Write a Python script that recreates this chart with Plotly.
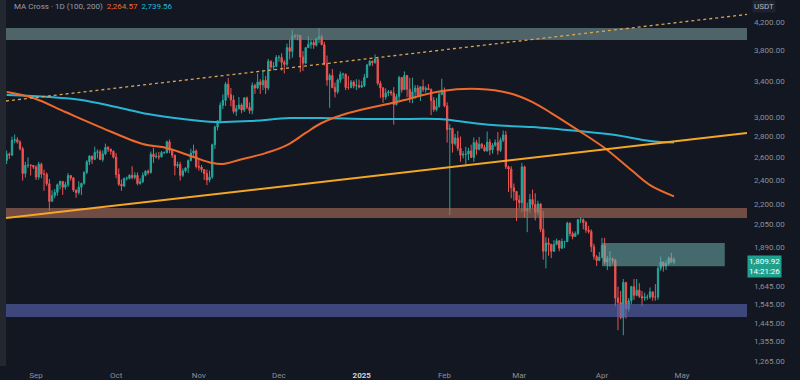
import math
import pandas as pd
import plotly.graph_objects as go

# ---------------- data (ETH/USDT daily) ----------------
start_date = "2024-08-21"
end_date = "2025-04-28"
first_open = 2573

close_aug = [2630, 2622, 2762, 2768, 2746, 2680, 2456, 2528, 2529, 2527, 2513]
high_aug = [2664, 2645, 2798, 2820, 2792, 2762, 2700, 2560, 2600, 2538, 2530]
low_aug = [2540, 2585, 2612, 2735, 2730, 2665, 2395, 2420, 2505, 2438, 2495]

close_sep = [2425, 2538, 2450, 2450, 2368, 2225, 2272, 2297, 2360, 2388, 2340, 2361, 2438, 2418, 2316,
             2295, 2340, 2372, 2465, 2560, 2612, 2582, 2646, 2652, 2580, 2632, 2695, 2677, 2657, 2602]
high_sep = [2528, 2560, 2552, 2490, 2465, 2408, 2315, 2325, 2370, 2395, 2390, 2385, 2460, 2440, 2425,
            2320, 2390, 2375, 2475, 2575, 2620, 2615, 2700, 2675, 2672, 2665, 2730, 2705, 2680, 2665]
low_sep = [2400, 2403, 2415, 2310, 2350, 2150, 2225, 2250, 2270, 2322, 2277, 2320, 2340, 2395, 2300,
           2253, 2280, 2275, 2360, 2450, 2530, 2540, 2575, 2590, 2575, 2560, 2620, 2650, 2625, 2590]

close_oct = [2447, 2364, 2350, 2414, 2414, 2440, 2422, 2440, 2370, 2385, 2440, 2475, 2465, 2630, 2605, 2611,
             2605, 2645, 2645, 2747, 2667, 2620, 2525, 2535, 2440, 2478, 2505, 2570, 2640, 2660, 2518]
high_oct = [2640, 2500, 2405, 2420, 2430, 2450, 2520, 2467, 2465, 2415, 2465, 2485, 2490, 2655, 2690, 2645,
            2650, 2660, 2655, 2760, 2770, 2680, 2625, 2560, 2560, 2500, 2510, 2580, 2680, 2720, 2675]
low_oct = [2415, 2350, 2310, 2340, 2395, 2405, 2405, 2405, 2355, 2360, 2375, 2430, 2445, 2455, 2550, 2590,
           2580, 2600, 2630, 2635, 2640, 2595, 2440, 2505, 2395, 2425, 2465, 2460, 2565, 2605, 2500]

close_nov = [2512, 2490, 2456, 2400, 2425, 2720, 2895, 2960, 3127, 3182, 3370, 3245, 3187, 3060, 3090,
             3130, 3075, 3210, 3105, 3070, 3355, 3325, 3395, 3360, 3415, 3325, 3655, 3580, 3590, 3705]
high_nov = [2585, 2530, 2490, 2490, 2480, 2730, 2910, 2965, 3160, 3250, 3395, 3445, 3325, 3240, 3130,
            3220, 3150, 3220, 3225, 3160, 3390, 3375, 3500, 3430, 3545, 3470, 3685, 3665, 3645, 3735]
low_nov = [2480, 2465, 2400, 2357, 2380, 2410, 2680, 2860, 2950, 3085, 3120, 3210, 3115, 3035, 3012,
           3080, 3040, 3055, 3085, 3035, 3030, 3255, 3310, 3255, 3300, 3255, 3300, 3560, 3540, 3580]

close_dec = [3705, 3640, 3615, 3835, 3785, 4000, 3995, 4005, 3710, 3630, 3835, 3880, 3905, 3870, 3960, 3985,
             3875, 3625, 3420, 3475, 3330, 3280, 3420, 3490, 3490, 3330, 3330, 3395, 3350, 3355, 3335]
high_dec = [3735, 3760, 3670, 3890, 3945, 4085, 4020, 4015, 4010, 3790, 3845, 3995, 3950, 3945, 3965, 4107,
            4020, 3915, 3730, 3500, 3555, 3390, 3440, 3525, 3510, 3500, 3470, 3420, 3415, 3430, 3425]
low_dec = [3650, 3535, 3500, 3590, 3680, 3700, 3960, 3935, 3515, 3530, 3615, 3835, 3820, 3820, 3850, 3900,
           3870, 3600, 3350, 3100, 3320, 3215, 3255, 3385, 3435, 3300, 3305, 3320, 3320, 3300, 3320]

close_jan = [3353, 3452, 3605, 3655, 3635, 3685, 3380, 3325, 3220, 3265, 3280, 3265, 3135, 3225, 3450, 3305,
             3475, 3310, 3215, 3280, 3325, 3240, 3340, 3305, 3320, 3305, 3180, 3080, 3115, 3250, 3300]
high_jan = [3410, 3495, 3620, 3670, 3665, 3745, 3700, 3410, 3335, 3320, 3300, 3300, 3335, 3255, 3470, 3450,
            3525, 3475, 3445, 3450, 3360, 3360, 3345, 3425, 3345, 3370, 3320, 3220, 3210, 3280, 3435]
low_jan = [3325, 3335, 3445, 3590, 3595, 3625, 3355, 3210, 3155, 3190, 3230, 3235, 2920, 3125, 3180, 3270,
           3300, 3220, 3155, 3150, 3200, 3225, 3175, 3280, 3270, 3300, 3020, 3055, 3060, 3100, 3240]

close_feb = [3120, 2870, 2880, 2730, 2785, 2685, 2620, 2630, 2630, 2660, 2600, 2740, 2675, 2725,
             2695, 2660, 2745, 2670, 2715, 2740, 2665, 2765, 2815, 2515, 2495, 2335, 2305, 2235]
high_feb = [3330, 3160, 2925, 2890, 2825, 2855, 2800, 2660, 2700, 2690, 2720, 2790, 2765, 2795,
            2735, 2720, 2850, 2775, 2735, 2770, 2845, 2790, 2860, 2855, 2525, 2520, 2370, 2305]
low_feb = [3105, 2740, 2120, 2645, 2710, 2660, 2560, 2590, 2520, 2575, 2595, 2560, 2625, 2665,
           2680, 2655, 2655, 2620, 2635, 2700, 2625, 2650, 2745, 2495, 2300, 2250, 2230, 2075]

close_mar = [2215, 2515, 2150, 2170, 2240, 2200, 2140, 2205, 2015, 1865, 1920, 1910, 1865, 1910, 1935, 1885,
             1930, 1930, 2060, 1985, 1965, 1985, 2085, 2085, 2065, 2010, 2000, 1895, 1830, 1805, 1825]
high_mar = [2275, 2550, 2525, 2215, 2285, 2320, 2290, 2230, 2210, 2150, 1960, 1955, 1915, 1940, 1950, 1940,
            1950, 1935, 2070, 2065, 2000, 2000, 2090, 2105, 2095, 2075, 2040, 2015, 1915, 1840, 1860]
low_mar = [2170, 2140, 2100, 1995, 2135, 2170, 2080, 2120, 1995, 1810, 1755, 1835, 1820, 1860, 1905, 1865,
           1880, 1885, 1925, 1965, 1945, 1965, 1975, 2060, 2015, 1990, 1985, 1860, 1810, 1770, 1800]

close_apr = [1905, 1795, 1815, 1815, 1805, 1580, 1555, 1475, 1670, 1520, 1565, 1645, 1595, 1625,
             1590, 1580, 1585, 1585, 1615, 1585, 1585, 1755, 1795, 1770, 1785, 1820, 1795, 1810]
high_apr = [1955, 1955, 1835, 1865, 1825, 1815, 1645, 1620, 1690, 1670, 1580, 1650, 1690, 1690,
            1665, 1620, 1610, 1600, 1640, 1615, 1660, 1770, 1830, 1795, 1805, 1830, 1855, 1825]
low_apr = [1820, 1780, 1745, 1765, 1785, 1535, 1410, 1465, 1385, 1470, 1505, 1545, 1570, 1590,
           1580, 1535, 1565, 1570, 1575, 1565, 1565, 1570, 1740, 1735, 1745, 1775, 1790, 1780]

# moving averages (SMA 100 / SMA 200)
ma100_dates = ["2024-08-21", "2024-08-31", "2024-09-12", "2024-09-25", "2024-10-11", "2024-10-20",
               "2024-10-30", "2024-11-06", "2024-11-10", "2024-11-16", "2024-11-26", "2024-12-04",
               "2024-12-11", "2024-12-17", "2024-12-27", "2025-01-14", "2025-01-31", "2025-02-14",
               "2025-02-25", "2025-03-06", "2025-03-13", "2025-03-23", "2025-04-02", "2025-04-12",
               "2025-04-19", "2025-04-28"]
ma100_vals = [3277, 3209, 3053, 2895, 2726, 2688, 2603, 2549, 2540, 2576, 2640, 2716, 2835, 2937,
              3042, 3163, 3289, 3313, 3266, 3163, 3042, 2864, 2688, 2486, 2357, 2265]

ma200_dates = ["2024-08-21", "2024-09-06", "2024-09-18", "2024-10-01", "2024-10-13", "2024-10-26",
               "2024-11-07", "2024-11-20", "2024-12-05", "2024-12-17", "2025-01-03", "2025-01-14",
               "2025-01-30", "2025-02-08", "2025-02-19", "2025-03-06", "2025-03-23", "2025-04-06",
               "2025-04-19", "2025-04-28"]
ma200_vals = [3243, 3220, 3186, 3108, 3031, 2978, 2946, 2957, 2988, 2988, 2978, 2978, 2978, 2950,
              2915, 2895, 2854, 2814, 2755, 2740]

# drawn levels / trend lines
view_start = "2024-08-20 18:00"
view_end = "2025-05-25 08:00"
support_line = [2097, 2834]
dotted_line = [3175, 4314]
zone_top = [3940, 4110]
zone_brown = [2098, 2173]
zone_blue = [1477, 1547]
box_teal = [1769, 1920]
box_teal_dates = ["2025-04-01", "2025-05-17"]

y_ticks = [4200, 3800, 3400, 3000, 2800, 2600, 2400, 2200, 2050, 1890, 1645, 1545, 1445, 1355, 1265]
x_ticks = ["2024-09-01", "2024-10-01", "2024-11-01", "2024-12-01", "2025-01-01",
           "2025-02-01", "2025-03-01", "2025-04-01", "2025-05-01"]
x_labels = ["Sep", "Oct", "Nov", "Dec", "2025", "Feb", "Mar", "Apr", "May"]
last_price = 1809.92
countdown = "14:21:26"
ma100_last = 2264.57
ma200_last = 2739.56

# ---------------- build ----------------
dates = pd.date_range(start_date, end_date, freq="D")
close = close_aug + close_sep + close_oct + close_nov + close_dec + close_jan + close_feb + close_mar + close_apr
high = high_aug + high_sep + high_oct + high_nov + high_dec + high_jan + high_feb + high_mar + high_apr
low = low_aug + low_sep + low_oct + low_nov + low_dec + low_jan + low_feb + low_mar + low_apr
open_ = [first_open] + close[:-1]

BG = "#131722"
GREEN = "#26a69a"
RED = "#ef5350"
AXIS_TXT = "#8b8f99"

fig = go.Figure()

fig.add_trace(go.Candlestick(
    x=dates, open=open_, high=high, low=low, close=close,
    increasing=dict(line=dict(color=GREEN, width=1), fillcolor=GREEN),
    decreasing=dict(line=dict(color=RED, width=1), fillcolor=RED),
    whiskerwidth=0, hoverinfo="skip", showlegend=False,
))


def zone(x0, x1, lo, hi, color):
    fig.add_trace(go.Scatter(
        x=[x0, x1, x1, x0, x0], y=[lo, lo, hi, hi, lo], mode="lines",
        line=dict(width=0), fill="toself", fillcolor=color,
        hoverinfo="skip", showlegend=False,
    ))


zone("2024-08-10", "2025-06-10", zone_top[0], zone_top[1], "rgba(117,148,147,0.62)")
zone("2024-08-10", "2025-06-10", zone_brown[0], zone_brown[1], "rgba(169,110,89,0.62)")
zone("2024-08-10", "2025-06-10", zone_blue[0], zone_blue[1], "rgba(87,101,179,0.62)")
zone(box_teal_dates[0], box_teal_dates[1], box_teal[0], box_teal[1], "rgba(112,175,171,0.55)")

fig.add_trace(go.Scatter(x=ma200_dates, y=ma200_vals, mode="lines",
                         line=dict(color="#29b6d3", width=2, shape="spline", smoothing=1.0),
                         hoverinfo="skip", showlegend=False))
fig.add_trace(go.Scatter(x=ma100_dates, y=ma100_vals, mode="lines",
                         line=dict(color="#ee6a2a", width=2, shape="spline", smoothing=1.0),
                         hoverinfo="skip", showlegend=False))
fig.add_trace(go.Scatter(x=[view_start, view_end], y=support_line, mode="lines",
                         line=dict(color="#f5a623", width=2),
                         hoverinfo="skip", showlegend=False))
fig.add_trace(go.Scatter(x=[view_start, view_end], y=dotted_line, mode="lines",
                         line=dict(color="#d9a456", width=1.3, dash="dot"),
                         hoverinfo="skip", showlegend=False))

y_lo = math.log10(1242)
y_hi = math.log10(4540)

fig.update_layout(
    template="none",
    width=800, height=380,
    margin=dict(l=6, r=53, t=0, b=14),
    paper_bgcolor=BG, plot_bgcolor=BG,
    showlegend=False,
    xaxis=dict(
        type="date", range=[view_start, view_end], rangeslider=dict(visible=False),
        showgrid=False, zeroline=False, showline=False, ticks="",
        tickvals=x_ticks,
        ticktext=[("<b><span style='color:#d1d4dc'>%s</span></b>" % t) if t == "2025" else t for t in x_labels],
        tickfont=dict(family="Roboto, Arial", size=8, color=AXIS_TXT),
        ticklabelstandoff=3, automargin=False, fixedrange=True,
    ),
    yaxis=dict(
        type="log", side="right", range=[y_lo, y_hi],
        showgrid=False, zeroline=False, showline=False, ticks="",
        tickvals=y_ticks, ticktext=[f"{v:,.2f}" for v in y_ticks],
        tickfont=dict(family="Roboto, Arial", size=8, color=AXIS_TXT),
        ticklabelstandoff=6, automargin=False, fixedrange=True,
    ),
    shapes=[dict(type="rect", xref="paper", yref="paper", x0=-6 / 741, x1=0, y0=0, y1=1,
                 fillcolor="#23272f", line=dict(width=0), layer="above")],
    annotations=[
        dict(xref="paper", yref="paper", x=6 / 741, y=1, xanchor="left", yanchor="top", yshift=0,
             showarrow=False, font=dict(family="Roboto, Arial", size=8, color="#9a9ea8"),
             text=("MA Cross · 1D (100, 200)  <span style='color:#ee6a2a'>%s</span>  "
                   "<span style='color:#29b6d3'>%s</span>") % (f"{ma100_last:,.2f}", f"{ma200_last:,.2f}")),
        dict(xref="paper", yref="paper", x=1, y=1, xanchor="left", yanchor="top", xshift=5, yshift=0,
             showarrow=False, bgcolor="#1e222d", borderpad=1,
             font=dict(family="Roboto, Arial", size=8, color="#b2b5be"), text="USDT"),
        dict(xref="paper", yref="y", x=1, y=math.log10(last_price), xanchor="left", yanchor="top",
             yshift=5, xshift=0, showarrow=False, bgcolor="#1fa08c", borderpad=1, align="center",
             font=dict(family="Roboto, Arial", size=8, color="#ffffff"),
             text=f"{last_price:,.2f}<br>{countdown}"),
    ],
)

fig.write_html("out.html",
               config={"displayModeBar": False, "staticPlot": True},
               post_script="document.body.style.margin='0px';document.body.style.background='#131722';")
